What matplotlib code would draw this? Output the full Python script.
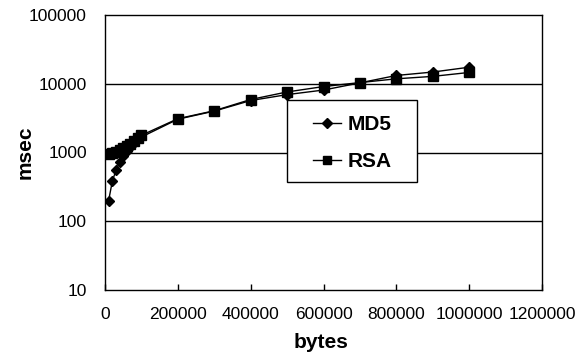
import matplotlib
matplotlib.use("Agg")
import matplotlib.pyplot as plt
from matplotlib.ticker import FixedLocator, NullLocator
from matplotlib.patches import Rectangle

bytes_x = [10000, 20000, 30000, 40000, 50000, 60000, 70000, 80000, 90000, 100000,
           200000, 300000, 400000, 500000, 600000, 700000, 800000, 900000, 1000000]
md5_ms = [200, 380, 550, 720, 880, 1050, 1220, 1390, 1560, 1680,
          3050, 4000, 5700, 6950, 8100, 10300, 13200, 14800, 17400]
rsa_ms = [960, 980, 1020, 1080, 1150, 1230, 1330, 1450, 1600, 1780,
          3100, 4050, 5900, 7600, 9100, 10400, 11800, 12800, 14600]

x_ticks = [0, 200000, 400000, 600000, 800000, 1000000, 1200000]
y_ticks = [10, 100, 1000, 10000, 100000]

plt.rcParams['font.family'] = ['Liberation Sans', 'DejaVu Sans']

W, H = 583, 355
L, R, T, B = 105, 542, 15, 290
fig = plt.figure(figsize=(W / 100, H / 100), dpi=100)
ax = fig.add_axes([L / W, 1 - B / H, (R - L) / W, (B - T) / H])

ax.plot(bytes_x, md5_ms, color='black', lw=1, marker='D', ms=5.5, label='MD5')
ax.plot(bytes_x, rsa_ms, color='black', lw=1, marker='s', ms=6.5, label='RSA')

ax.set_yscale('log')
ax.set_ylim(10, 100000)
ax.set_xlim(0, 1200000)
ax.xaxis.set_major_locator(FixedLocator(x_ticks))
ax.yaxis.set_major_locator(FixedLocator(y_ticks))
ax.yaxis.set_minor_locator(NullLocator())
ax.set_xticklabels([str(v) for v in x_ticks], fontsize=12.5)
ax.set_yticklabels([str(v) for v in y_ticks], fontsize=12.5)
ax.tick_params(axis='x', direction='in', length=4, width=1, pad=12)
ax.tick_params(axis='y', length=0, pad=13)

for v in y_ticks[1:-1]:
    ax.axhline(v, color='black', lw=1, zorder=0)

for s in ax.spines.values():
    s.set_linewidth(1)
    s.set_color('black')

fig.text(321 / W, 1 - 343 / H, 'bytes', fontsize=15, fontweight='bold',
         ha='center', va='center')
fig.text(25 / W, 1 - 152 / H, 'msec', fontsize=15, fontweight='bold',
         ha='center', va='center', rotation=90)

def axx(px):
    return (px - L) / (R - L)

def axy(py):
    return (B - py) / (B - T)

ax.add_patch(Rectangle((axx(287), axy(182)), axx(417) - axx(287), axy(100) - axy(182),
                       transform=ax.transAxes, facecolor='white', edgecolor='black',
                       lw=1, zorder=4))

leg = ax.legend(loc='center left', bbox_to_anchor=(axx(313), axy(143)),
                prop={'weight': 'bold', 'size': 15}, frameon=False,
                handlelength=1.35, handletextpad=0.3, labelspacing=0.85,
                borderpad=0, borderaxespad=0, markerscale=0.9)
leg.set_zorder(5)

fig.savefig('out.png', dpi=100)
